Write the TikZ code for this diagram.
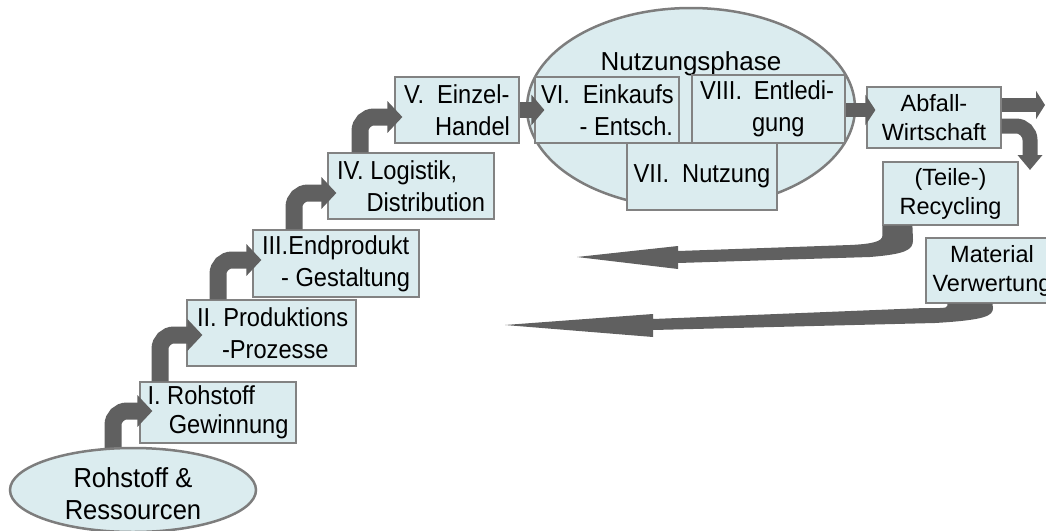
\documentclass[tikz,border=0pt]{standalone}
\usepackage{fontspec}
\setmainfont{Liberation Sans}
\newfontfamily\narrowfont[FakeStretch=0.91]{Liberation Sans}
\newfontfamily\semifont[FakeStretch=0.93]{Liberation Sans}
\usetikzlibrary{arrows.meta,shapes.geometric,calc}
\definecolor{boxfill}{RGB}{219,236,239}
\definecolor{boxline}{RGB}{130,130,130}
\definecolor{ellline}{RGB}{125,125,125}
\definecolor{arrowgray}{RGB}{96,96,96}
\newcommand{\Lline}[2]{\makebox[#1][l]{#2}}
\newcommand{\Rline}[2]{\makebox[#1][r]{#2}}
\tikzset{
  box/.style={rectangle, draw=boxline, line width=1.2pt, fill=boxfill, inner ysep=0pt, inner xsep=0pt,
    font=\narrowfont\fontsize{26}{32}\selectfont, align=left},
  cbox/.style={box, align=center, font=\fontsize{23.5}{29}\selectfont},
  ell/.style={ellipse, draw=ellline, line width=2.5pt, fill=boxfill, inner sep=0pt},
  fat/.style={draw=arrowgray, line width=17pt, rounded corners=14pt,
    -{Triangle[length=15pt,width=31pt]}},
  fath/.style={draw=arrowgray, line width=16pt, -{Triangle[length=13pt,width=30pt]}},
  ret/.style={fill=arrowgray, draw=none},
}
\begin{document}
\begin{tikzpicture}[x=1pt,y=-1pt]
\useasboundingbox (0,0) rectangle (1046,530);
\clip (0,0) rectangle (1046,530);

% usage phase ellipse
\node[ell, minimum width=328pt, minimum height=200pt] (nutz) at (691,108) {};
\node[font=\fontsize{26}{30}\selectfont, inner sep=0pt, anchor=base] (nutzlbl) at (691,70) {Nutzungsphase};

\coordinate (backA) at (577,257);
\coordinate (backB) at (505,325);

% boxes
\node[box, minimum width=156pt, minimum height=61pt] (b1) at (218,412.5)
  {\Lline{141pt}{I. Rohstoff}\\[-3pt]\Rline{141pt}{Gewinnung}};
\node[box, minimum width=169pt, minimum height=66pt] (b2) at (271.5,333)
  {\Lline{149pt}{II. Produktions}\\\Lline{149pt}{\hspace*{25pt}-Prozesse}};
\node[box, minimum width=166pt, minimum height=67pt] (b3) at (336,263.5)
  {\Lline{148pt}{III.Endprodukt}\\\Rline{148pt}{- Gestaltung}};
\node[box, minimum width=166pt, minimum height=66pt] (b4) at (411,186)
  {\Lline{148pt}{IV. Logistik,}\\\Rline{148pt}{Distribution}};
\node[box, minimum width=124pt, minimum height=66pt] (b5) at (457,110)
  {\Lline{106pt}{V.\hspace{0.5em}Einzel-}\\\Rline{106pt}{Handel}};
\node[box, minimum width=144pt, minimum height=66pt] (b6) at (607,110)
  {\Lline{132pt}{VI.\hspace{0.5em}Einkaufs}\\\Rline{132pt}{- Entsch.}};
\node[box, minimum width=153pt, minimum height=68pt] (b8) at (768.5,109)
  {\Lline{143pt}{\hspace*{3pt}VIII.\hspace{0.45em}Entledi-}\\\Lline{143pt}{\hspace*{55pt}gung}};
\node[box, align=center, minimum width=150pt, minimum height=67pt] (b7) at (702,176.5)
  {VII.\hspace{0.5em}Nutzung};
\node[cbox, minimum width=134pt, minimum height=61pt] (abfall) at (934,117.5)
  {Abfall-\\Wirtschaft};
\node[cbox, minimum width=135pt, minimum height=63pt] (recyc) at (950.5,193.5)
  {(Teile-)\\Recycling};
\node[cbox, minimum width=132pt, minimum height=65pt] (mat) at (992,270.5)
  {Material\\Verwertung};

% return arrows
\fill[ret] (recyc.south west) -- ++(0,10) .. controls +(0,6) and (872,244) .. (850,245)
  -- (678,251) -- (678,246) -- (backA) -- (678,269) -- (678,263) -- (870,257)
  .. controls (906,254) and (913,250) .. (913,240) -- ($(recyc.south west)+(30,0)$) -- cycle;
\fill[ret] ($(mat.south west)+(22,0)$) -- ++(0,2) .. controls +(0,3) and (940,308) .. (925,308)
  -- (653,319) -- (653,314) -- (backB) -- (653,337) -- (653,330) -- (935,323)
  .. controls (985,320) and (993,316) .. (993,308) -- ($(mat.south west)+(67,0)$) -- cycle;

% stair arrows
\draw[fat] ($(b1.north)+(-58,0)$) |- ($(b2.west)+(16,2)$);
\draw[fat] ($(b2.north)+(-53.5,0)$) |- ($(b3.west)+(9,-3.5)$);
\draw[fat] ($(b3.north)+(-42,0)$) |- ($(b4.west)+(9,7)$);
\draw[fat] ($(b4.north)+(-51,0)$) |- ($(b5.west)+(8,7)$);

% horizontal arrows
\draw[fath] (b5.east) -- ($(b6.west)+(10,0)$);
\draw[fath, line width=14pt, -{Triangle[length=10pt,width=30pt]}] ($(b8.east)+(0,1)$) -- ($(abfall.west)+(9,-7.5)$);
\coordinate (outR) at (1045,105);
\coordinate (outD) at (1030,170);
\draw[fath, line width=14pt, -{Triangle[length=9pt,width=28pt]}] ($(abfall.east)+(0,-12.5)$) -- (outR);
\draw[draw=arrowgray, line width=15pt, rounded corners=14pt, -{Triangle[length=15pt,width=24pt]}]
  ($(abfall.east)+(0,8.5)$) -| (outD);

% raw materials ellipse
\coordinate (rstart) at (113,456);
\draw[fat] (rstart) |- ($(b1.west)+(13,-1.5)$);
\node[ell, minimum width=246pt, minimum height=84pt] (rohstoff) at (133,490) {};
\node[font=\semifont\fontsize{27.5}{32}\selectfont, align=center, inner sep=0pt] (rohstofftxt) at (133,494)
  {Rohstoff \&\\Ressourcen};
\end{tikzpicture}
\end{document}
